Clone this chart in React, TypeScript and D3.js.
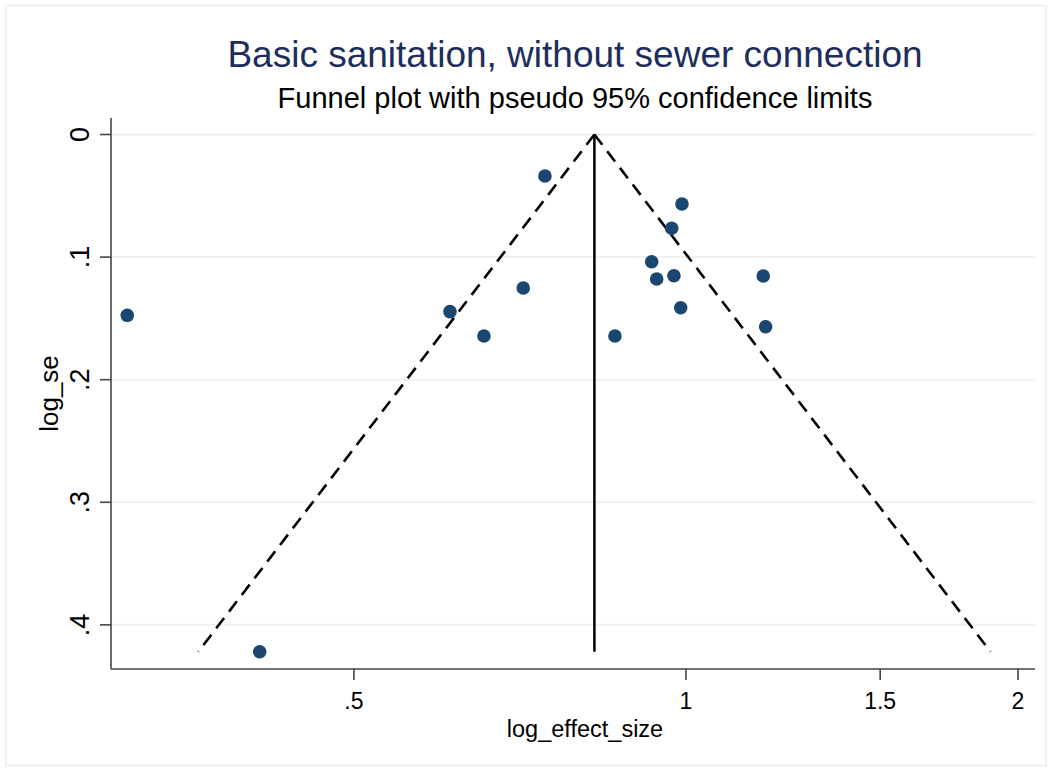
import React from "react";
import * as d3 from "d3";

const effectSize = [0.3115, 0.4107, 0.611, 0.6559, 0.712, 0.745, 0.8622, 0.9309, 0.9407, 0.9706, 0.9752, 0.9917, 0.989, 1.1751, 1.181];
const logSe = [0.1475, 0.4219, 0.1445, 0.1644, 0.1252, 0.0338, 0.1644, 0.1038, 0.1179, 0.0765, 0.1152, 0.0567, 0.1413, 0.1154, 0.1568];
const pooledEffect = 0.826;
const xTicks = [0.5, 1, 1.5, 2];
const xTickLabels = [".5", "1", "1.5", "2"];
const yTicks = [0, 0.1, 0.2, 0.3, 0.4];
const yTickLabels = ["0", ".1", ".2", ".3", ".4"];

const W = 1052;
const H = 771;
const left = 111, right = 1035, top = 118, bottom = 669;
const font = "'Liberation Sans', Arial, sans-serif";

export default function App() {
  const x = d3.scaleLog().domain([0.3011, 2.0723]).range([left, right]);
  const y = d3.scaleLinear().domain([-0.01346, 0.436]).range([top, bottom]);
  const seMax = d3.max(logSe) as number;
  const lt = Math.log(pooledEffect);
  const lineGen = d3.line<[number, number]>().x((d) => x(d[0])).y((d) => y(d[1]));
  const leftLimit: [number, number][] = [[Math.exp(lt), 0], [Math.exp(lt - 1.96 * seMax), seMax]];
  const rightLimit: [number, number][] = [[Math.exp(lt), 0], [Math.exp(lt + 1.96 * seMax), seMax]];
  const centre: [number, number][] = [[pooledEffect, 0], [pooledEffect, seMax]];

  return (
    <svg width={W} height={H} style={{ position: "absolute", left: 0, top: 0, background: "#fff" }}>
      <rect x={6} y={5.5} width={1040} height={760} fill="#fff" stroke="#eaf2f3" strokeWidth={2} />
      {yTicks.map((t) => (
        <line key={"g" + t} x1={left} x2={right} y1={y(t)} y2={y(t)} stroke="#eaf2f3" strokeWidth={2} />
      ))}
      <path d={lineGen(leftLimit) || ""} fill="none" stroke="#000" strokeWidth={2.6} strokeDasharray="13 8" />
      <path d={lineGen(rightLimit) || ""} fill="none" stroke="#000" strokeWidth={2.6} strokeDasharray="13 8" />
      <path d={lineGen(centre) || ""} fill="none" stroke="#000" strokeWidth={2.5} />
      {effectSize.map((e, i) => (
        <circle key={i} cx={x(e)} cy={y(logSe[i])} r={6.8} fill="#1a476f" />
      ))}
      <line x1={left} x2={left} y1={top} y2={bottom} stroke="#444" strokeWidth={1.6} />
      <line x1={left} x2={right} y1={bottom} y2={bottom} stroke="#444" strokeWidth={1.6} />
      {yTicks.map((t, i) => (
        <g key={"yt" + t}>
          <line x1={left - 11} x2={left} y1={y(t)} y2={y(t)} stroke="#444" strokeWidth={1.6} />
          <text
            transform={`translate(89,${y(t)}) rotate(-90)`}
            textAnchor="middle"
            fontFamily={font}
            fontSize={27}
            fill="#000"
          >
            {yTickLabels[i]}
          </text>
        </g>
      ))}
      {xTicks.map((t, i) => (
        <g key={"xt" + t}>
          <line x1={x(t)} x2={x(t)} y1={bottom} y2={bottom + 11} stroke="#444" strokeWidth={1.6} />
          <text x={x(t)} y={709} textAnchor="middle" fontFamily={font} fontSize={23} fill="#000">
            {xTickLabels[i]}
          </text>
        </g>
      ))}
      <text x={585} y={737} textAnchor="middle" fontFamily={font} fontSize={23.5} fill="#000">
        log_effect_size
      </text>
      <text
        transform={`translate(58,${(top + bottom) / 2}) rotate(-90)`}
        textAnchor="middle"
        fontFamily={font}
        fontSize={26}
        fill="#000"
      >
        log_se
      </text>
      <text x={575} y={67} textAnchor="middle" fontFamily={font} fontSize={37} fill="#1d2e5c">
        Basic sanitation, without sewer connection
      </text>
      <text x={575} y={108} textAnchor="middle" fontFamily={font} fontSize={29} fill="#000">
        Funnel plot with pseudo 95% confidence limits
      </text>
    </svg>
  );
}
